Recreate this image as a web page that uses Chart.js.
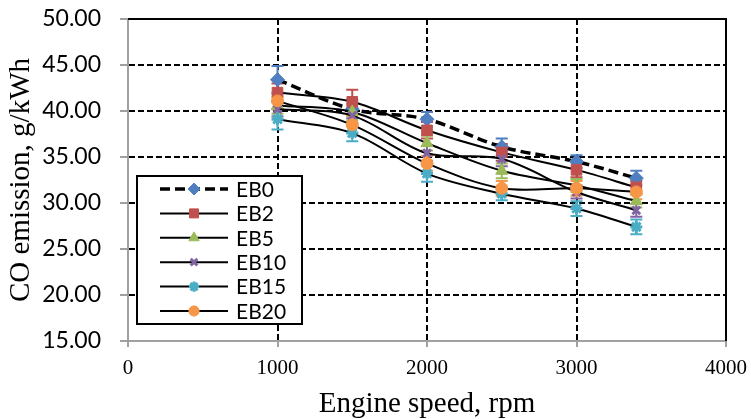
<!DOCTYPE html>
<html>
<head>
<meta charset="utf-8">
<script src="https://cdn.jsdelivr.net/npm/chart.js@4.4.1/dist/chart.umd.min.js"></script>
<style>
html,body{margin:0;padding:0;background:#fff;}
#wrap{width:751px;height:419px;position:relative;}
</style>
</head>
<body>
<div id="wrap"><canvas id="c"></canvas></div>
<script>
// ---- data ----
const speeds = [1000, 1500, 2000, 2500, 3000, 3400];
const seriesNames = ['EB0', 'EB2', 'EB5', 'EB10', 'EB15', 'EB20'];
const EB0  = [43.4, 40.2, 39.1, 36.1, 34.5, 32.7];
const EB2  = [42.0, 41.0, 37.9, 35.5, 33.6, 31.7];
const EB5  = [40.6, 39.9, 36.5, 33.5, 31.9, 30.2];
const EB10 = [40.2, 39.5, 35.4, 34.8, 31.2, 29.2];
const EB15 = [39.1, 37.6, 33.2, 31.0, 29.4, 27.4];
const EB20 = [41.1, 38.5, 34.3, 31.6, 31.6, 31.2];
const errEB0  = [1.5, 1.0, 0.8, 0.9, 0.7, 0.8];
const errEB2  = [1.0, 1.3, 0.9, 0.9, 0.8, 0.7];
const errEB5  = [0.9, 0.9, 0.8, 0.8, 0.7, 0.7];
const errEB10 = [0.8, 0.8, 0.8, 0.8, 0.7, 0.7];
const errEB15 = [1.1, 0.9, 0.9, 0.7, 0.8, 0.8];
const errEB20 = [0.9, 0.9, 0.8, 0.8, 0.8, 0.8];
const xTicks = [0, 1000, 2000, 3000, 4000];
const yTicks = [15, 20, 25, 30, 35, 40, 45, 50];

const values = [EB0, EB2, EB5, EB10, EB15, EB20];
const errors = [errEB0, errEB2, errEB5, errEB10, errEB15, errEB20];
const colors = ['#4F7FC0', '#C0504D', '#9BBB59', '#8064A2', '#4BACC6', '#F79646'];
const shapes = ['rectRot', 'rect', 'triangle', 'crossRot', 'star', 'circle'];
const radii  = [7, 7.5, 7, 5.5, 6, 6];

const datasets = seriesNames.map((name, i) => ({
  label: name,
  data: speeds.map((s, j) => ({x: s, y: values[i][j]})),
  errors: errors[i],
  borderColor: '#000',
  borderWidth: i === 0 ? 3.5 : 2,
  borderDash: i === 0 ? [10, 5] : [],
  tension: 0.33,
  fill: false,
  pointStyle: shapes[i],
  pointRadius: radii[i],
  pointHoverRadius: radii[i],
  pointBackgroundColor: colors[i],
  pointBorderColor: colors[i],
  pointBorderWidth: (shapes[i] === 'crossRot' || shapes[i] === 'star') ? 3 : 1,
  order: seriesNames.length - i
}));

const errorBars = {
  id: 'errorBars',
  beforeDatasetsDraw(chart) {
    const {ctx, scales: {x, y}} = chart;
    chart.data.datasets.forEach((ds, i) => {
      ctx.save();
      ctx.strokeStyle = colors[i];
      ctx.lineWidth = 2;
      ds.data.forEach((p, j) => {
        const px = x.getPixelForValue(p.x);
        const top = y.getPixelForValue(p.y + ds.errors[j]);
        const bot = y.getPixelForValue(p.y - ds.errors[j]);
        ctx.beginPath();
        ctx.moveTo(px, top); ctx.lineTo(px, bot);
        ctx.moveTo(px - 6, top); ctx.lineTo(px + 6, top);
        ctx.moveTo(px - 6, bot); ctx.lineTo(px + 6, bot);
        ctx.stroke();
      });
      ctx.restore();
    });
  }
};

const frameAndLegend = {
  id: 'frameAndLegend',
  afterDraw(chart) {
    const {ctx, chartArea: a} = chart;
    ctx.save();
    ctx.strokeStyle = '#000';
    ctx.lineWidth = 2;
    ctx.beginPath();
    ctx.moveTo(a.left, a.top); ctx.lineTo(a.right, a.top); ctx.lineTo(a.right, a.bottom);
    ctx.stroke();
    const bx = a.left + 9, by = a.top + 157, bw = 165, bh = 148;
    ctx.fillStyle = '#fff';
    ctx.fillRect(bx, by, bw, bh);
    ctx.strokeStyle = '#000';
    ctx.lineWidth = 2;
    ctx.strokeRect(bx, by, bw, bh);
    ctx.font = '21px Lato, "Open Sans", sans-serif';
    ctx.textBaseline = 'middle';
    ctx.textAlign = 'left';
    seriesNames.forEach((name, i) => {
      const ry = by + 13 + i * 24.4;
      ctx.save();
      ctx.strokeStyle = '#000';
      ctx.lineWidth = i === 0 ? 3.5 : 2;
      ctx.setLineDash(i === 0 ? [10, 5] : []);
      ctx.beginPath();
      ctx.moveTo(bx + 23, ry); ctx.lineTo(bx + 91, ry);
      ctx.stroke();
      ctx.restore();
      ctx.save();
      ctx.fillStyle = colors[i];
      ctx.strokeStyle = colors[i];
      ctx.lineWidth = (shapes[i] === 'crossRot' || shapes[i] === 'star') ? 3 : 1;
      Chart.helpers.drawPoint(ctx, {pointStyle: shapes[i], radius: radii[i] * 0.85, rotation: 0, borderWidth: ctx.lineWidth}, bx + 57, ry);
      ctx.restore();
      ctx.fillStyle = '#000';
      ctx.fillText(name, bx + 99, ry + 1);
    });
    ctx.restore();
  }
};

new Chart(document.getElementById('c'), {
  type: 'line',
  data: {datasets},
  plugins: [errorBars, frameAndLegend],
  options: {
    responsive: true,
    maintainAspectRatio: false,
    animation: false,
    layout: {padding: {left: 0, right: 25, top: 19, bottom: 0}},
    plugins: {legend: {display: false}, tooltip: {enabled: false}},
    scales: {
      x: {
        type: 'linear',
        min: 0, max: 4000,
        afterBuildTicks(s) { s.ticks = xTicks.map(v => ({value: v})); },
        afterFit(s) { s.height = 78; s.paddingLeft = 0; s.paddingRight = 0; },
        ticks: {
          color: '#000',
          padding: 9,
          callback: v => String(v),
          font: {family: '"Liberation Serif", "Times New Roman", serif', size: 21}
        },
        grid: {
          color: c => (c.tick && (c.tick.value === 0 || c.tick.value === 4000)) ? 'rgba(0,0,0,0)' : '#000',
          lineWidth: 2,
          tickLength: 6,
          tickColor: '#A0A0A0',
          tickWidth: 2,
          tickBorderDash: []
        },
        border: {display: true, color: '#A0A0A0', width: 2, dash: [6, 3]},
        title: {
          display: true,
          text: 'Engine speed, rpm',
          color: '#000',
          padding: {top: 0, bottom: 0},
          font: {family: '"Liberation Serif", "Times New Roman", serif', size: 29, lineHeight: 1}
        }
      },
      y: {
        type: 'linear',
        min: 15, max: 50,
        afterBuildTicks(s) { s.ticks = yTicks.map(v => ({value: v})); },
        afterFit(s) { s.width = 128; s.paddingTop = 0; s.paddingBottom = 0; },
        ticks: {
          color: '#000',
          padding: 19,
          callback: v => Number(v).toFixed(2),
          font: {family: 'Lato, "Open Sans", sans-serif', size: 23}
        },
        grid: {
          color: c => (c.tick && (c.tick.value === 15 || c.tick.value === 50)) ? 'rgba(0,0,0,0)' : '#000',
          lineWidth: 2,
          tickLength: 8,
          tickColor: '#A0A0A0',
          tickWidth: 2,
          tickBorderDash: []
        },
        border: {display: true, color: '#A0A0A0', width: 2, dash: [6, 3]},
        title: {
          display: true,
          text: 'CO emission, g/kWh',
          color: '#000',
          padding: {top: 7, bottom: 0},
          font: {family: '"Liberation Serif", "Times New Roman", serif', size: 29, lineHeight: 1}
        }
      }
    }
  }
});
</script>
</body>
</html>
